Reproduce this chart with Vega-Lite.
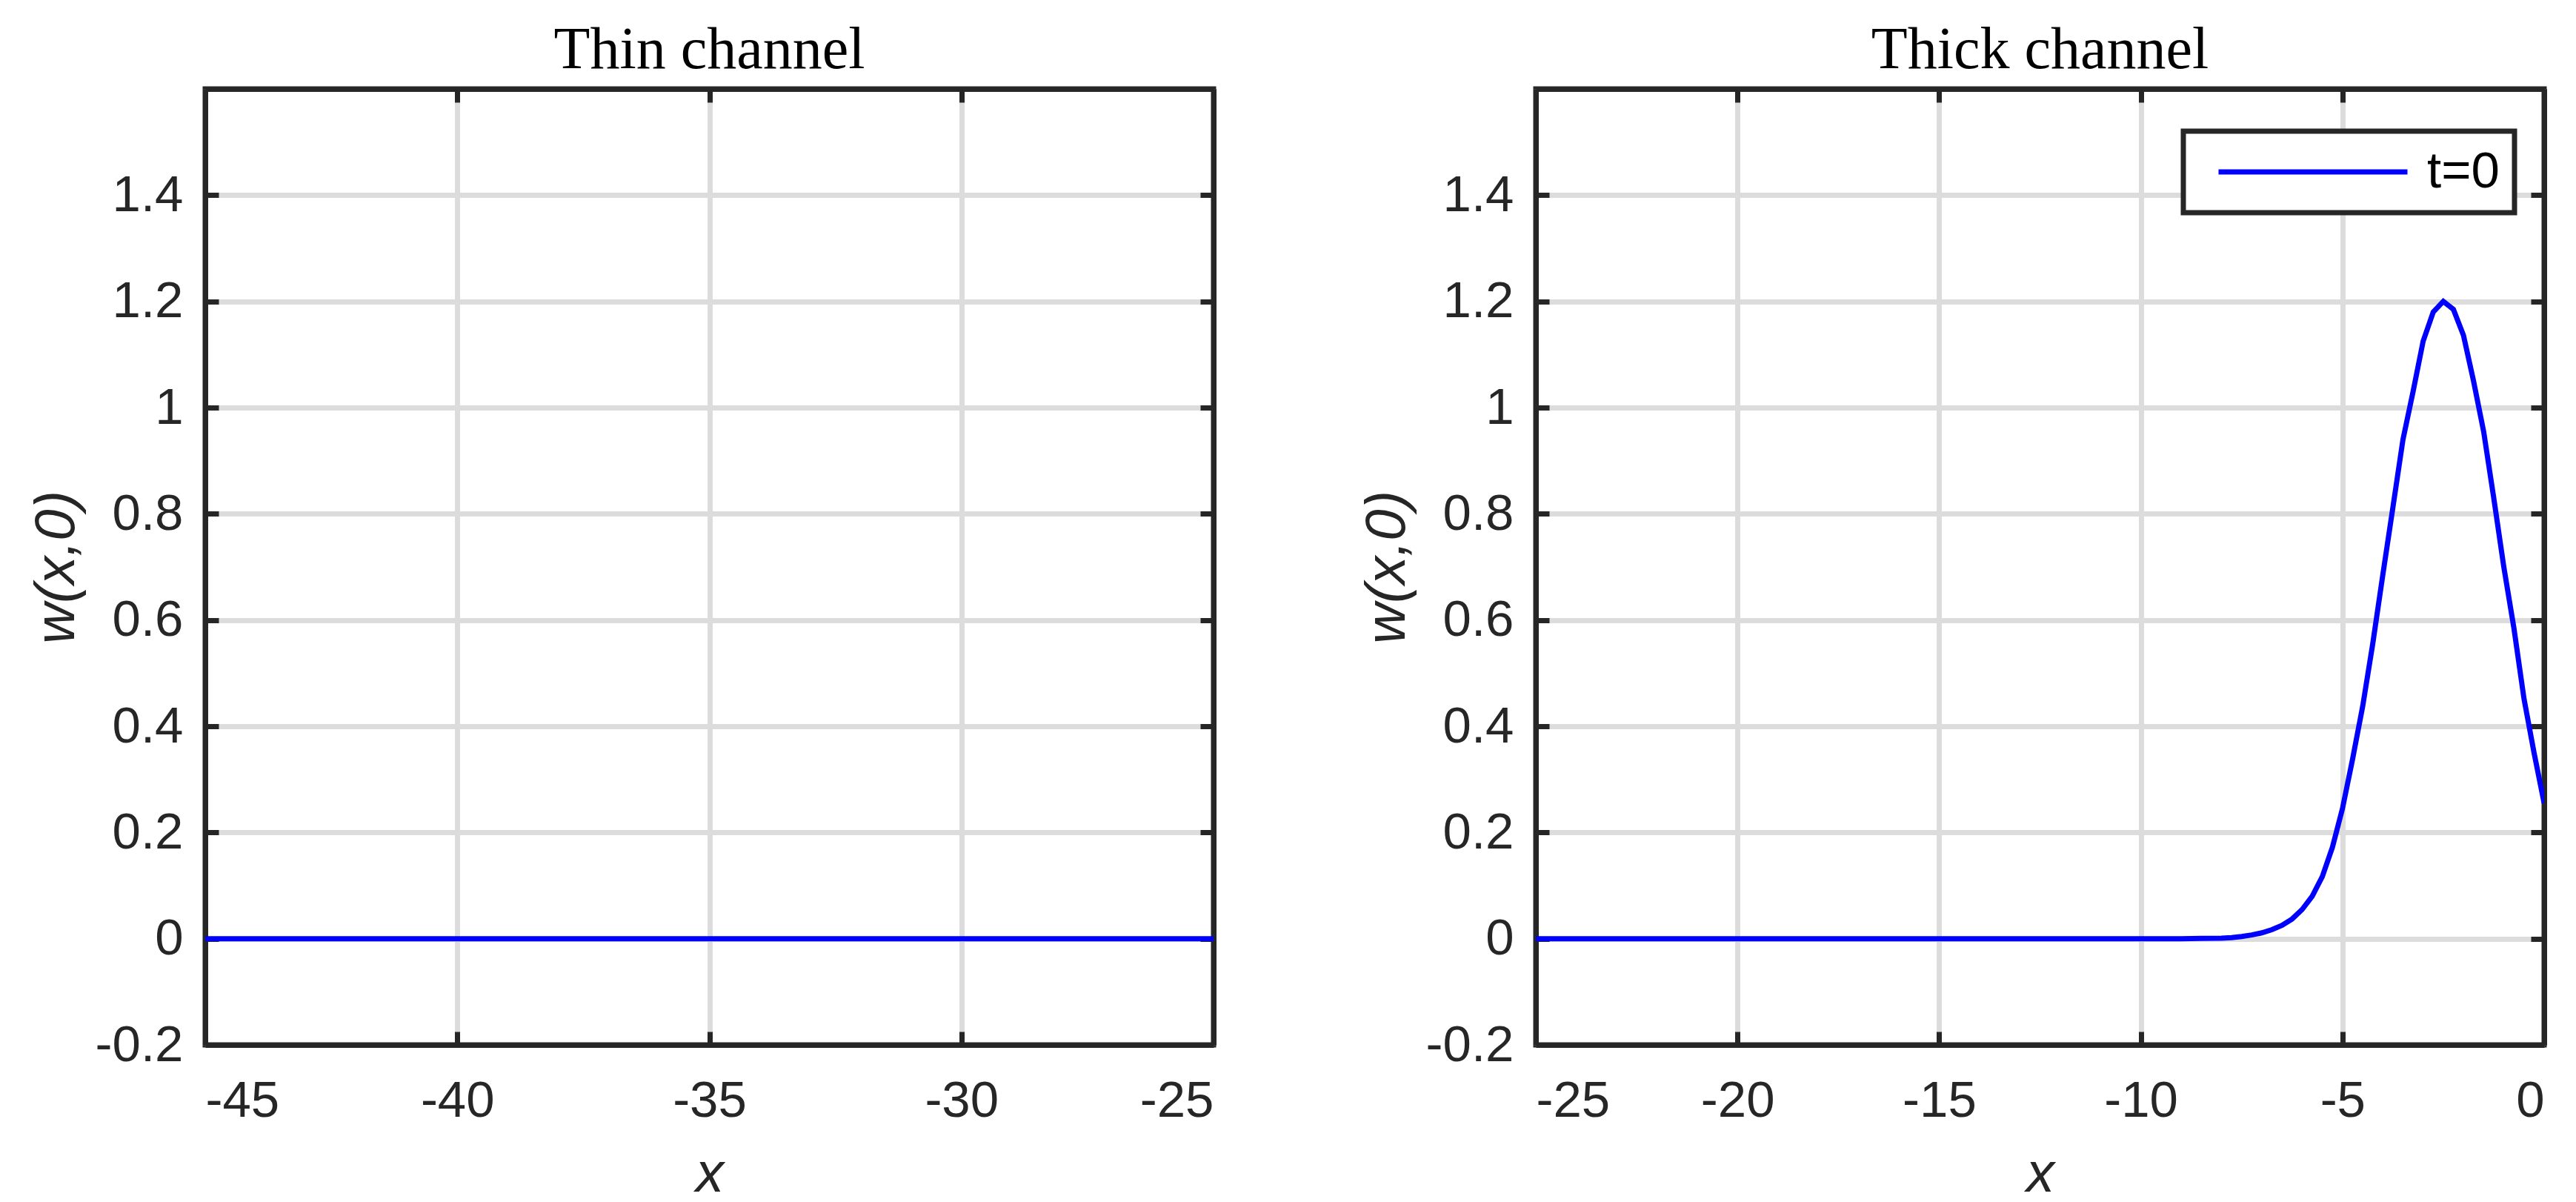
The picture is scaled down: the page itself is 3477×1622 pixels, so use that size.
{
  "$schema": "https://vega.github.io/schema/vega-lite/v6.json",
  "background": "white",
  "padding": {"left": 34, "top": 24, "right": 20, "bottom": 0},
  "spacing": 185,
  "config": {
    "font": "Liberation Sans",
    "view": {"stroke": "#262626", "strokeWidth": 7},
    "axis": {
      "domainColor": "#262626", "domainWidth": 7,
      "tickColor": "#262626", "tickWidth": 7, "tickSize": -18,
      "gridColor": "#dcdcdc", "gridWidth": 7,
      "labelFontSize": 69, "labelColor": "#262626", "labelFont": "Liberation Sans",
      "titleFontSize": 76, "titleFontStyle": "italic", "titleFontWeight": "normal",
      "titleColor": "#262626", "titleFont": "Liberation Sans"
    },
    "axisX": {"labelPadding": 59, "titlePadding": 27},
    "axisY": {"labelPadding": 48, "titlePadding": 13},
    "title": {"font": "Liberation Serif", "fontSize": 80, "fontWeight": "normal", "color": "black", "baseline": "alphabetic", "offset": 8, "frame": "group", "anchor": "middle"}
  },
  "datasets": {
    "thin": [
      {"x": -45, "w": 0}, {"x": -40, "w": 0}, {"x": -35, "w": 0}, {"x": -30, "w": 0}, {"x": -25, "w": 0}
    ],
    "thick": [
      {"x": -25, "w": 0, "series": "t=0"}, {"x": -20, "w": 0, "series": "t=0"}, {"x": -15, "w": 0, "series": "t=0"},
      {"x": -10, "w": 0, "series": "t=0"}, {"x": -9, "w": 0, "series": "t=0"}, {"x": -8.5, "w": 0.0005, "series": "t=0"},
      {"x": -8, "w": 0.001, "series": "t=0"}, {"x": -7.75, "w": 0.002, "series": "t=0"}, {"x": -7.5, "w": 0.004, "series": "t=0"},
      {"x": -7.25, "w": 0.007, "series": "t=0"}, {"x": -7, "w": 0.011, "series": "t=0"}, {"x": -6.75, "w": 0.017, "series": "t=0"},
      {"x": -6.5, "w": 0.025, "series": "t=0"}, {"x": -6.25, "w": 0.037, "series": "t=0"}, {"x": -6, "w": 0.055, "series": "t=0"},
      {"x": -5.75, "w": 0.08, "series": "t=0"}, {"x": -5.5, "w": 0.117, "series": "t=0"}, {"x": -5.25, "w": 0.172, "series": "t=0"},
      {"x": -5, "w": 0.245, "series": "t=0"}, {"x": -4.75, "w": 0.338, "series": "t=0"}, {"x": -4.5, "w": 0.437, "series": "t=0"},
      {"x": -4.25, "w": 0.555, "series": "t=0"}, {"x": -4, "w": 0.685, "series": "t=0"}, {"x": -3.75, "w": 0.812, "series": "t=0"},
      {"x": -3.5, "w": 0.94, "series": "t=0"}, {"x": -3.25, "w": 1.03, "series": "t=0"}, {"x": -3, "w": 1.125, "series": "t=0"},
      {"x": -2.75, "w": 1.18, "series": "t=0"}, {"x": -2.5, "w": 1.2, "series": "t=0"}, {"x": -2.25, "w": 1.185, "series": "t=0"},
      {"x": -2, "w": 1.136, "series": "t=0"}, {"x": -1.75, "w": 1.05, "series": "t=0"}, {"x": -1.5, "w": 0.955, "series": "t=0"},
      {"x": -1.25, "w": 0.83, "series": "t=0"}, {"x": -1, "w": 0.7, "series": "t=0"}, {"x": -0.75, "w": 0.585, "series": "t=0"},
      {"x": -0.5, "w": 0.452, "series": "t=0"}, {"x": -0.25, "w": 0.35, "series": "t=0"}, {"x": 0, "w": 0.255, "series": "t=0"}
    ]
  },
  "hconcat": [
    {
      "title": "Thin channel",
      "width": 1361,
      "height": 1290,
      "layer": [
        {
          "data": {"name": "thin"},
          "mark": {"type": "line", "color": "#0000ff", "strokeWidth": 7, "clip": true},
          "encoding": {
            "x": {"field": "x", "type": "quantitative",
              "scale": {"domain": [-45, -25], "nice": false, "zero": false},
              "axis": {"values": [-45, -40, -35, -30, -25], "format": "~g", "title": "x", "grid": true, "labelExpr": "replace(datum.label, '\u2212', '-')"}},
            "y": {"field": "w", "type": "quantitative",
              "scale": {"domain": [-0.2, 1.6], "nice": false, "zero": false},
              "axis": {"values": [-0.2, 0, 0.2, 0.4, 0.6, 0.8, 1, 1.2, 1.4], "format": "~g", "title": "w(x,0)", "grid": true, "labelExpr": "replace(datum.label, '\u2212', '-')"}}
          }
        },
        {
          "data": {"name": "thin"},
          "mark": {"type": "line", "opacity": 0},
          "encoding": {
            "x": {"field": "x", "type": "quantitative",
              "scale": {"domain": [-45, -25], "nice": false, "zero": false},
              "axis": {"orient": "top", "values": [-45, -40, -35, -30, -25], "labels": false, "title": null, "grid": false}},
            "y": {"field": "w", "type": "quantitative",
              "scale": {"domain": [-0.2, 1.6], "nice": false, "zero": false},
              "axis": {"orient": "right", "values": [-0.2, 0, 0.2, 0.4, 0.6, 0.8, 1, 1.2, 1.4], "labels": false, "title": null, "grid": false}}
          }
        }
      ],
      "resolve": {"axis": {"x": "independent", "y": "independent"}}
    },
    {
      "title": "Thick channel",
      "width": 1361,
      "height": 1290,
      "layer": [
        {
          "data": {"name": "thick"},
          "mark": {"type": "line", "strokeWidth": 7, "clip": true},
          "encoding": {
            "x": {"field": "x", "type": "quantitative",
              "scale": {"domain": [-25, 0], "nice": false, "zero": false},
              "axis": {"values": [-25, -20, -15, -10, -5, 0], "format": "~g", "title": "x", "grid": true, "labelExpr": "replace(datum.label, '\u2212', '-')"}},
            "y": {"field": "w", "type": "quantitative",
              "scale": {"domain": [-0.2, 1.6], "nice": false, "zero": false},
              "axis": {"values": [-0.2, 0, 0.2, 0.4, 0.6, 0.8, 1, 1.2, 1.4], "format": "~g", "title": "w(x,0)", "grid": true, "labelExpr": "replace(datum.label, '\u2212', '-')"}},
            "color": {"field": "series", "type": "nominal",
              "scale": {"range": ["#0000ff"]},
              "legend": {"title": null, "orient": "none", "legendX": 2670, "legendY": 57,
                "symbolType": "stroke", "symbolSize": 65025, "symbolStrokeWidth": 7, "clipHeight": 70,
                "labelFontSize": 69, "labelFont": "Liberation Sans", "labelColor": "black",
                "padding": 20, "strokeColor": "#262626", "fillColor": "white",
                "symbolOffset": 24, "labelOffset": 23,
                "encode": {"legend": {"update": {"strokeWidth": {"value": 7}}}}}}
          }
        },
        {
          "data": {"name": "thick"},
          "mark": {"type": "line", "opacity": 0},
          "encoding": {
            "x": {"field": "x", "type": "quantitative",
              "scale": {"domain": [-25, 0], "nice": false, "zero": false},
              "axis": {"orient": "top", "values": [-25, -20, -15, -10, -5, 0], "labels": false, "title": null, "grid": false}},
            "y": {"field": "w", "type": "quantitative",
              "scale": {"domain": [-0.2, 1.6], "nice": false, "zero": false},
              "axis": {"orient": "right", "values": [-0.2, 0, 0.2, 0.4, 0.6, 0.8, 1, 1.2, 1.4], "labels": false, "title": null, "grid": false}}
          }
        }
      ],
      "resolve": {"axis": {"x": "independent", "y": "independent"}}
    }
  ]
}
